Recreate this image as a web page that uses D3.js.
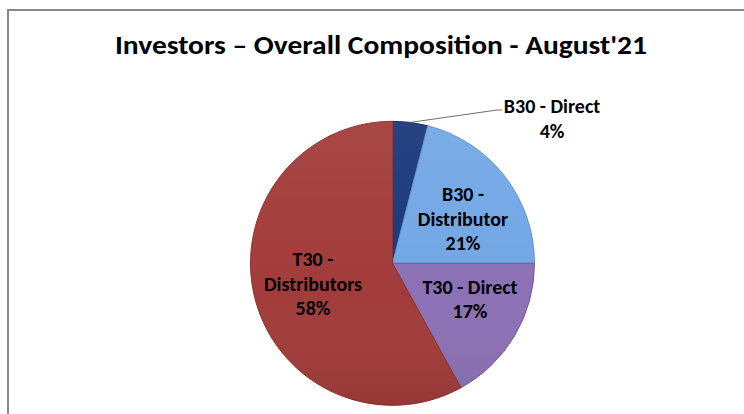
<!DOCTYPE html>
<html>
<head>
<meta charset="utf-8">
<script src="https://cdn.jsdelivr.net/npm/d3@7"></script>
<style>
  html, body { margin: 0; padding: 0; background: #fff; }
  svg { display: block; }
  text { font-family: Carlito, Calibri, Lato, "Open Sans", sans-serif; font-weight: bold; fill: #000; }
</style>
</head>
<body>
<script>
// ---- data ----
const categories = ["B30 - Direct", "B30 - Distributor", "T30 - Direct", "T30 - Distributors"];
const values = [4, 21, 17, 58];
const labelLines = [["B30 - Direct", "4%"], ["B30 -", "Distributor", "21%"], ["T30 - Direct", "17%"], ["T30 -", "Distributors", "58%"]];
const colors = ["#19377a", "#72a7e5", "#8c71b5", "#a23c3a"];
const edgeColors = ["#122a5e", "#5f93d2", "#735a9c", "#8a302e"];
const title = "Investors \u2013 Overall Composition - August'21";

const W = 744, H = 414;
const cx = 392.5, cy = 263.3, R = 142;

const svg = d3.select("body").append("svg").attr("width", W).attr("height", H);

// chart frame
svg.append("rect")
  .attr("x", 8).attr("y", 10).attr("width", W + 20).attr("height", H + 20)
  .attr("fill", "#fff").attr("stroke", "#878787").attr("stroke-width", 2);

// title
const t = svg.append("text")
  .attr("x", 381).attr("y", 54)
  .attr("text-anchor", "middle")
  .attr("font-size", 27)
  .text(title);
const tw = t.node().getComputedTextLength();
if (Math.abs(tw - 532) > 4) t.attr("textLength", 532).attr("lengthAdjust", "spacingAndGlyphs");

const defs = svg.append("defs");
const sh = defs.append("linearGradient").attr("id", "shade").attr("x1", 0).attr("y1", 0).attr("x2", 0).attr("y2", 1);
sh.append("stop").attr("offset", "0%").attr("stop-color", "#fff").attr("stop-opacity", 0.06);
sh.append("stop").attr("offset", "60%").attr("stop-color", "#fff").attr("stop-opacity", 0);
sh.append("stop").attr("offset", "100%").attr("stop-color", "#000").attr("stop-opacity", 0.08);

const pie = d3.pie().sort(null).value(d => d)(values);
const arc = d3.arc().innerRadius(0).outerRadius(R);

const g = svg.append("g").attr("transform", `translate(${cx},${cy})`);
g.selectAll("path.slice").data(pie).join("path")
  .attr("class", "slice")
  .attr("d", arc)
  .attr("fill", (d, i) => colors[i])
  .attr("stroke", (d, i) => edgeColors[i])
  .attr("stroke-width", 1);

g.append("circle").attr("r", R).attr("fill", "url(#shade)").attr("stroke", "none");

// labels inside slices
const fs = 20, lh = 24.5;
const inside = [null,
  { x: 463, y: 201 },
  { x: 470, y: 293.5 },
  { x: 313, y: 266 }];
labelLines.forEach((lines, i) => {
  if (i === 0) return;
  const p = inside[i];
  const tx = svg.append("text").attr("font-size", fs).attr("text-anchor", "middle");
  lines.forEach((ln, k) => {
    tx.append("tspan").attr("x", p.x).attr("y", p.y + k * lh).text(ln);
  });
});

// outside label with leader line for the small slice
const d0 = pie[0];
const mid = (d0.startAngle + d0.endAngle) / 2;
const sx = cx + R * Math.sin(mid), sy = cy - R * Math.cos(mid);
svg.append("polyline")
  .attr("points", `${sx},${sy} 497,110 502,110`)
  .attr("fill", "none").attr("stroke", "#6e6e6e").attr("stroke-width", 1);
const ot = svg.append("text").attr("font-size", fs).attr("text-anchor", "middle");
labelLines[0].forEach((ln, k) => {
  ot.append("tspan").attr("x", 552).attr("y", 113 + k * lh).text(ln);
});
</script>
</body>
</html>
